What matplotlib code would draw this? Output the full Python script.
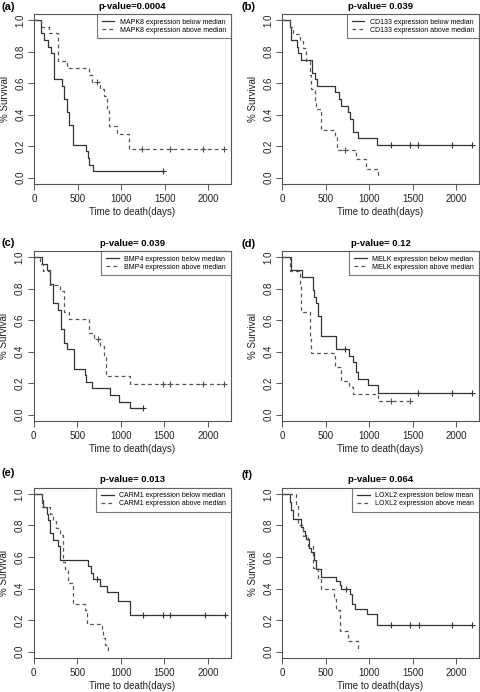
import numpy as np
import matplotlib.pyplot as plt

plt.rcParams['font.family'] = ['Liberation Sans', 'DejaVu Sans']

# ---- data (event times in days, survival after the step) ----
a_lo_t = [0, 80, 118, 160, 195, 225, 320, 340, 378, 397, 447, 600, 615, 626, 683]
a_lo_s = [1.0, 0.917, 0.875, 0.833, 0.792, 0.625, 0.583, 0.5, 0.417, 0.333, 0.208, 0.167, 0.125, 0.083, 0.042]
a_lo_c = [1485]
a_hi_t = [0, 80, 175, 275, 378, 626, 664, 760, 809, 836, 866, 958, 1095]
a_hi_s = [1.0, 0.958, 0.917, 0.742, 0.695, 0.652, 0.609, 0.565, 0.522, 0.435, 0.33, 0.28, 0.185]
a_hi_c = [718, 1245, 1561, 1943, 2180]

b_lo_t = [0, 95, 105, 170, 183, 221, 347, 374, 405, 603, 660, 680, 756, 786, 820, 870, 1088]
b_lo_s = [1.0, 0.958, 0.875, 0.833, 0.792, 0.75, 0.667, 0.625, 0.583, 0.542, 0.50, 0.458, 0.417, 0.375, 0.29, 0.25, 0.208]
b_lo_c = [1250, 1470, 1565, 1947, 2176]
b_hi_t = [0, 88, 126, 202, 240, 279, 317, 336, 374, 393, 450, 603, 630, 844, 966, 1099]
b_hi_s = [1.0, 0.958, 0.913, 0.87, 0.826, 0.739, 0.652, 0.565, 0.478, 0.435, 0.304, 0.261, 0.174, 0.116, 0.058, 0.0]
b_hi_c = [729]

c_lo_t = [0, 95, 153, 191, 229, 275, 313, 344, 382, 459, 592, 604, 669, 879, 975, 1109]
c_lo_s = [1.0, 0.958, 0.917, 0.833, 0.708, 0.667, 0.542, 0.458, 0.417, 0.292, 0.25, 0.208, 0.167, 0.125, 0.083, 0.042]
c_lo_c = [1254]
c_hi_t = [0, 76, 107, 191, 306, 344, 401, 631, 688, 765, 810, 833, 1101]
c_hi_s = [1.0, 0.957, 0.913, 0.826, 0.783, 0.652, 0.609, 0.522, 0.478, 0.435, 0.37, 0.243, 0.195]
c_hi_c = [734, 1480, 1568, 1945, 2180]

d_lo_t = [0, 107, 229, 355, 362, 385, 412, 450, 622, 767, 813, 851, 870, 985, 1099]
d_lo_s = [1.0, 0.917, 0.875, 0.792, 0.75, 0.708, 0.625, 0.50, 0.417, 0.375, 0.333, 0.27, 0.23, 0.19, 0.14]
d_lo_c = [729, 1565, 1947, 2176]
d_hi_t = [0, 88, 202, 221, 317, 336, 603, 680, 775, 813, 1099]
d_hi_s = [1.0, 0.913, 0.826, 0.652, 0.478, 0.391, 0.304, 0.217, 0.174, 0.13, 0.087]
d_hi_c = [1252, 1470]

e_lo_t = [0, 92, 111, 149, 169, 188, 218, 283, 303, 628, 655, 678, 762, 839, 973, 1107]
e_lo_s = [1.0, 0.958, 0.917, 0.875, 0.833, 0.75, 0.708, 0.667, 0.583, 0.542, 0.50, 0.458, 0.417, 0.375, 0.32, 0.23]
e_lo_c = [724, 1253, 1479, 1567, 1960, 2188]
e_hi_t = [0, 103, 188, 226, 257, 303, 341, 360, 398, 448, 590, 617, 781, 800, 820, 858]
e_hi_s = [1.0, 0.917, 0.875, 0.826, 0.783, 0.739, 0.565, 0.522, 0.435, 0.304, 0.261, 0.174, 0.13, 0.087, 0.043, 0.0]
e_hi_c = []

f_lo_t = [0, 88, 107, 126, 214, 241, 260, 279, 310, 337, 364, 394, 451, 624, 662, 681, 777, 808, 835, 980, 1095]
f_lo_s = [1.0, 0.947, 0.895, 0.842, 0.789, 0.763, 0.737, 0.711, 0.658, 0.632, 0.579, 0.526, 0.474, 0.447, 0.421, 0.395, 0.368, 0.303, 0.27, 0.236, 0.169]
f_lo_c = [731, 1255, 1473, 1569, 1951, 2181]
f_hi_t = [0, 157, 184, 241, 299, 356, 414, 451, 593, 624, 662, 758, 873]
f_hi_s = [1.0, 0.933, 0.80, 0.733, 0.667, 0.533, 0.467, 0.40, 0.333, 0.267, 0.133, 0.067, 0.0]
f_hi_c = []

labels = ['(a)', '(b)', '(c)', '(d)', '(e)', '(f)']
titles = ['p-value=0.0004', 'p-value= 0.039', 'p-value= 0.039',
          'p-value= 0.12', 'p-value= 0.013', 'p-value= 0.064']
genes = ['MAPK8', 'CD133', 'BMP4', 'MELK', 'CARM1', 'LOXL2']
split = ['median', 'median', 'median', 'median', 'median', 'mean']
curves = [
    (a_lo_t, a_lo_s, a_lo_c, a_hi_t, a_hi_s, a_hi_c),
    (b_lo_t, b_lo_s, b_lo_c, b_hi_t, b_hi_s, b_hi_c),
    (c_lo_t, c_lo_s, c_lo_c, c_hi_t, c_hi_s, c_hi_c),
    (d_lo_t, d_lo_s, d_lo_c, d_hi_t, d_hi_s, d_hi_c),
    (e_lo_t, e_lo_s, e_lo_c, e_hi_t, e_hi_s, e_hi_c),
    (f_lo_t, f_lo_s, f_lo_c, f_hi_t, f_hi_s, f_hi_c),
]

# axes boxes in pixels: left, right, top, bottom
boxes = [(34, 231, 14, 184), (282, 479, 14, 184),
         (33.5, 231, 251, 421), (282, 479, 251, 421),
         (33.5, 231, 487.5, 658), (282, 479, 487.5, 658)]
label_pos = [(1, 7), (241, 7), (1, 243), (241, 244), (1, 473), (241, 475)]

W, H = 480, 692
fig = plt.figure(figsize=(W / 100, H / 100), dpi=100)

lo_col = '#333333'
hi_col = '#555555'
frame_col = '#555555'


def km(ax, t, s, cens, color, dashed):
    t = np.asarray(t, float)
    s = np.asarray(s, float)
    end = max(t[-1], max(cens) if len(cens) else t[-1])
    tt = np.append(t, end)
    ss = np.append(s, s[-1])
    line, = ax.step(tt, ss, where='post', color=color, lw=0.9)
    if dashed:
        line.set_dashes((3, 2.5))
    if len(cens):
        cy = s[np.searchsorted(t, cens, side='right') - 1]
        ax.plot(cens, cy, '+', color=color, ms=4.5, mew=0.8)
    return line


for i in range(6):
    L, R, T, B = boxes[i]
    ax = fig.add_axes([L / W, (H - B) / H, (R - L) / W, (B - T) / H])
    lo_t, lo_s, lo_c, hi_t, hi_s, hi_c = curves[i]
    l1 = km(ax, lo_t, lo_s, lo_c, lo_col, False)
    l2 = km(ax, hi_t, hi_s, hi_c, hi_col, True)
    ax.set_xlim(0, 2262)
    ax.set_ylim(-0.04, 1.04)
    ax.set_xticks([0, 500, 1000, 1500, 2000])
    ax.set_yticks([0.0, 0.2, 0.4, 0.6, 0.8, 1.0])
    ax.set_yticklabels(['0.0', '0.2', '0.4', '0.6', '0.8', '1.0'], rotation=90, va='center')
    ax.tick_params(direction='out', length=4.3, width=0.7, colors=frame_col,
                   labelcolor='#222222', labelsize=7)
    ax.tick_params(axis='x', pad=3)
    ax.tick_params(axis='y', pad=2)
    for sp in ax.spines.values():
        sp.set_color(frame_col)
        sp.set_linewidth(0.8)
    g = genes[i]
    leg = ax.legend([l1, l2], [g + ' expression below ' + split[i], g + ' expression above ' + split[i]],
                    loc='upper right', fontsize=5, frameon=True, fancybox=False,
                    borderaxespad=0, handlelength=1.8, handletextpad=0.8,
                    labelspacing=0.1, borderpad=0.7)
    leg.get_frame().set_edgecolor(frame_col)
    leg.get_frame().set_linewidth(0.8)
    cx = (L + R) / 2
    fig.text(cx / W, 1 - (T - 7.5) / H, titles[i], ha='center', va='center',
             fontsize=6.8, fontweight='bold')
    fig.text(label_pos[i][0] / W, 1 - label_pos[i][1] / H, labels[i], ha='left', va='center',
             fontsize=8, fontweight='bold')
    fig.text(cx / W, 1 - (B + 28) / H, 'Time to death(days)', ha='center', va='center',
             fontsize=7, color='#222222')
    fig.text((L - 29) / W, 1 - ((T + B) / 2) / H, '% Survival', ha='center', va='center',
             rotation=90, fontsize=7, color='#222222')

fig.savefig('out.png', dpi=100)
